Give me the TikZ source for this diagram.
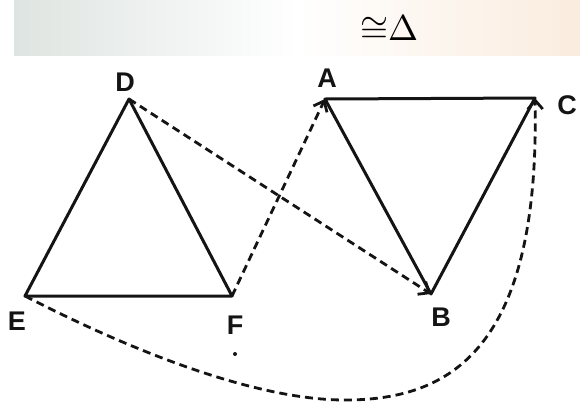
\documentclass[tikz,border=0pt]{standalone}
\usepackage{amsmath,amssymb}
\usepackage{fontspec}
\setsansfont{Liberation Sans}
\usepackage{tikz}
\usetikzlibrary{calc,arrows.meta}
\definecolor{bandGray}{RGB}{222,228,225}
\definecolor{bandPeach}{RGB}{250,236,222}
\definecolor{inkBlack}{RGB}{20,20,20}

\begin{document}
\begin{tikzpicture}[x=1pt,y=-1pt,
    side/.style={inkBlack, line width=3pt, line join=round},
    mapto/.style={inkBlack, line width=2.8pt, dash pattern=on 8pt off 5pt,
        -{Straight Barb[length=9pt,width=15pt,line width=2.8pt]}},
    lbl/.style={text=inkBlack, font=\sffamily\bfseries\fontsize{27}{29}\selectfont, inner sep=0pt}]
    \useasboundingbox (0,0) rectangle (580,410);

    % faded band with the title
    \shade[left color=bandGray, right color=bandPeach, middle color=white]
        (14,0) rectangle (580,55);
    \node[scale=3.6, inner sep=0pt] (title) at (389,29) {${\cong}\Delta$};

    % vertices
    \coordinate (D) at (129,99);
    \coordinate (E) at (25,296);
    \coordinate (F) at (232,296);
    \coordinate (A) at (325,99);
    \coordinate (B) at (431,294);
    \coordinate (C) at (535,98);
    \coordinate (low) at (345,400);

    % triangles
    \draw[side] (D) -- (E) -- (F) -- cycle;
    \draw[side] (A) -- (B) -- (C) -- cycle;

    % correspondence
    \draw[mapto] (F) -- (A);
    \draw[mapto] (D) -- (B);
    \draw[mapto] (E) .. controls (120,345) and (250,400) .. (low)
        .. controls (450,400) and (540,350) .. (C);

    % stray dot
    \fill[inkBlack] (235,354) circle (2pt);

    % labels
    \node[lbl] (labD) at (125,82) {D};
    \node[lbl] (labE) at (17,321) {E};
    \node[lbl] (labF) at (235,325) {F};
    \node[lbl] (labA) at (327,78) {A};
    \node[lbl] (labB) at (441,317) {B};
    \node[lbl] (labC) at (567,105) {C};
\end{tikzpicture}
\end{document}
